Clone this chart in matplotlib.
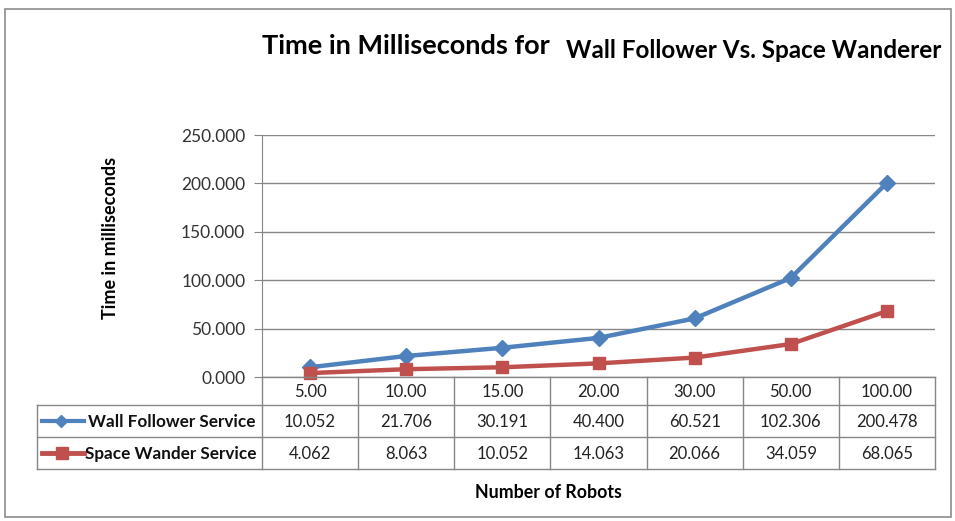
import matplotlib
matplotlib.use("Agg")
import matplotlib.pyplot as plt
from matplotlib.lines import Line2D
from matplotlib.patches import Rectangle

categories = ["5.00", "10.00", "15.00", "20.00", "30.00", "50.00", "100.00"]
wall_follower = [10.052, 21.706, 30.191, 40.400, 60.521, 102.306, 200.478]
space_wander = [4.062, 8.063, 10.052, 14.063, 20.066, 34.059, 68.065]
series_names = ["Wall Follower Service", "Space Wander Service"]
yticks = [0, 50, 100, 150, 200, 250]

FONT = ["Lato", "DejaVu Sans"]
plt.rcParams["font.family"] = FONT

W, H = 955, 521
fig = plt.figure(figsize=(W / 100, H / 100), dpi=100)
fig.patch.set_facecolor("white")

def fx(px):
    return px / W

def fy(py):
    return 1 - py / H

# plot area
L, R, T, B = 262, 935, 135, 377
ax = fig.add_axes([fx(L), fy(B), fx(R) - fx(L), fy(T) - fy(B)])
x = list(range(len(categories)))
blue = "#4F81BD"
red = "#C0504D"
ax.plot(x, wall_follower, color=blue, lw=3.2, marker="D", ms=8, mec=blue, mfc=blue, zorder=3, clip_on=False)
ax.plot(x, space_wander, color=red, lw=3.2, marker="s", ms=9, mec=red, mfc=red, zorder=3, clip_on=False)
ax.set_xlim(-0.5, len(categories) - 0.5)
ax.set_ylim(0, 250)
ax.set_yticks(yticks)
ax.set_yticklabels([f"{v:.3f}" for v in yticks], fontsize=12.5, color="#333333")
ax.set_xticks([])
ax.grid(axis="y", color="#868686", lw=1)
ax.set_axisbelow(True)
for s in ["top", "right", "bottom"]:
    ax.spines[s].set_visible(False)
ax.spines["left"].set_color("#868686")
ax.tick_params(axis="y", length=6, color="#868686", pad=6)

# overlay for table/frame
ov = fig.add_axes([0, 0, 1, 1], zorder=-1)
ov.set_xlim(0, W)
ov.set_ylim(H, 0)
ov.axis("off")
ov2 = fig.add_axes([0, 0, 1, 1], zorder=5)
ov2.set_xlim(0, W)
ov2.set_ylim(H, 0)
ov2.axis("off")
ov2.patch.set_alpha(0)

# outer frame
ov.add_patch(Rectangle((5, 9), 946, 508, fill=False, ec="#8c8c8c", lw=1.2))

gc = "#868686"
colw = (R - L) / len(categories)
r0, r1, r2, r3 = 377, 405, 437, 469
TL = 37
# horizontal lines
ov2.plot([L, R], [r0, r0], color=gc, lw=1)
for yy in [r1, r2, r3]:
    ov2.plot([TL, R], [yy, yy], color=gc, lw=1)
# vertical lines
for i in range(len(categories) + 1):
    ov2.plot([L + i * colw] * 2, [r0, r3], color=gc, lw=1)
ov2.plot([TL, TL], [r1, r3], color=gc, lw=1)

# header
for i, c in enumerate(categories):
    ov2.text(L + (i + 0.5) * colw, (r0 + r1) / 2 + 1, c, ha="center", va="center", fontsize=12, color="#222222")
for row, (vals, ya, yb) in enumerate([(wall_follower, r1, r2), (space_wander, r2, r3)]):
    for i, v in enumerate(vals):
        ov2.text(L + (i + 0.5) * colw, (ya + yb) / 2 + 1, f"{v:.3f}", ha="center", va="center", fontsize=12, color="#222222")

# legend keys
ym1 = (r1 + r2) / 2
ym2 = (r2 + r3) / 2
ov2.add_line(Line2D([42, 84], [ym1, ym1], color=blue, lw=3))
ov2.add_line(Line2D([61], [ym1], color=blue, marker="D", ms=6, lw=0))
ov2.add_line(Line2D([42, 84], [ym2, ym2], color=red, lw=3.5))
ov2.add_line(Line2D([62], [ym2], color=red, marker="s", ms=9, lw=0))
ov2.text(88, ym1 + 1, series_names[0], ha="left", va="center", fontsize=12.3, fontweight="bold", color="#111111")
ov2.text(85, ym2 + 1, series_names[1], ha="left", va="center", fontsize=12.3, fontweight="bold", color="#111111")

# titles
ov2.text(262, 46, "Time in Milliseconds for", ha="left", va="center", fontsize=19.5, fontweight="bold", color="black")
ov2.text(566, 50, "Wall Follower Vs. Space Wanderer", ha="left", va="center", fontsize=17.5, fontweight="bold", color="black")
ov2.text(110, 238, "Time in milliseconds", ha="center", va="center", rotation=90, fontsize=13, fontweight="bold", color="black")
ov2.text(548, 492, "Number of Robots", ha="center", va="center", fontsize=12.8, fontweight="bold", color="black")

fig.savefig("out.png", dpi=100, facecolor="white")
